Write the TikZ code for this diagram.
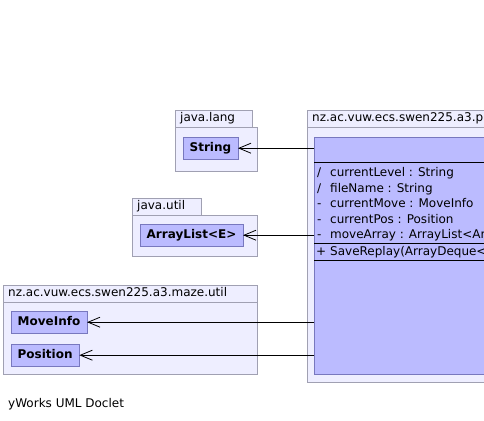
\documentclass[tikz,border=0pt]{standalone}
\usepackage{fontspec}
\setmainfont{DejaVu Sans}
\usetikzlibrary{arrows.meta, positioning}
\definecolor{pkgfill}{RGB}{238, 238, 255}
\definecolor{pkgline}{RGB}{160, 160, 178}
\definecolor{classfill}{RGB}{187, 187, 255}
\definecolor{classline}{RGB}{120, 120, 190}

\tikzset{
    txt/.style={font=\fontsize{12}{14}\selectfont, inner sep=0pt, anchor=base west},
    pkgbody/.style={draw=pkgline, fill=pkgfill, anchor=north west, inner sep=0pt},
    pkgtab/.style={draw=pkgline, fill=pkgfill, anchor=north west, inner xsep=5pt, inner ysep=0pt,
        minimum height=17pt, text height=9pt, text depth=3pt, align=left, font=\fontsize{12}{14}\selectfont},
    classbox/.style={draw=classline, fill=classfill, anchor=north west, minimum height=22pt,
        inner xsep=6.5pt, inner ysep=0pt, text height=9pt, text depth=3pt, font=\fontsize{12}{14}\selectfont\bfseries},
    assoc/.style={line width=0.8pt, -{Straight Barb[length=12pt, width=10pt, line width=0.8pt]}}
}

\begin{document}
\begin{tikzpicture}[x=1pt, y=-1pt]
    \useasboundingbox (0,0) rectangle (484,420);
    \clip (0,0) rectangle (484,420);

    % java.lang
    \node[pkgbody, minimum width=82pt, minimum height=44pt] (langbody) at (175,127) {};
    \node[pkgtab, text width=67pt] (langtab) at (175,110) {java.lang};
    \node[classbox] (string) at (183,137) {String};

    % java.util
    \node[pkgbody, minimum width=125pt, minimum height=41pt] (utilbody) at (132,215) {};
    \node[pkgtab, text width=59pt] (utiltab) at (132,198) {java.util};
    \node[classbox] (arraylist) at (140,224) {ArrayList<E>};

    % nz.ac.vuw.ecs.swen225.a3.maze.util
    \node[pkgbody, minimum width=254pt, minimum height=72pt] (mazebody) at (3,302) {};
    \node[pkgtab, text width=244pt] (mazetab) at (3,285) {nz.ac.vuw.ecs.swen225.a3.maze.util};
    \node[classbox] (moveinfo) at (11,311) {MoveInfo};
    \node[classbox] (position) at (11,344) {Position};

    % nz.ac.vuw.ecs.swen225.a3.persistence
    \node[pkgbody, minimum width=260pt, minimum height=255pt] (perbody) at (307,127) {};
    \node[pkgtab, text width=250pt] (pertab) at (307,110) {nz.ac.vuw.ecs.swen225.a3.p};
    \node[draw=classline, fill=classfill, anchor=north west, inner sep=0pt,
        minimum width=240pt, minimum height=237pt] (replay) at (314,137) {};
    \draw[line width=0.8pt] (314,162) -- ++(240,0);
    \draw[line width=0.8pt] (314,243) -- ++(240,0);
    \draw[line width=0.8pt] (314,260) -- ++(240,0);

    % fields
    \foreach \vis/\name [count=\i from 0] in {{/}/currentLevel : String, {/}/fileName : String,
            -/currentMove : MoveInfo, -/currentPos : Position, -/moveArray : ArrayList<Ar} {
        \node[txt] (vis\i) at (317, 176.5+\i*15.5) {\vis};
        \node[txt] (field\i) at (330, 176.5+\i*15.5) {\name};
    }
    \node[txt] (opvis) at (316,255.5) {+};
    \node[txt] (op) at (330,255.5) {SaveReplay(ArrayDeque<};

    % associations
    \draw[assoc] (replay.west |- string.east) -- (string.east);
    \draw[assoc] (replay.west |- arraylist.east) -- (arraylist.east);
    \draw[assoc] (replay.west |- moveinfo.east) -- (moveinfo.east);
    \draw[assoc] (replay.west |- position.east) -- (position.east);

    \node[txt] (doclet) at (8,407) {yWorks UML Doclet};
\end{tikzpicture}
\end{document}
